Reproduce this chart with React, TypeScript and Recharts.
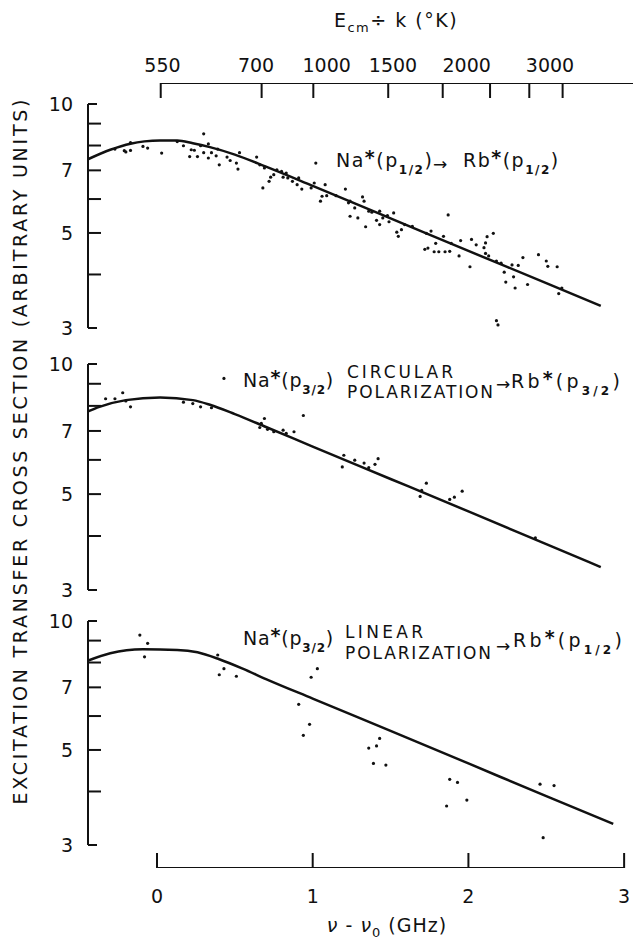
import React from 'react';
import { ComposedChart, Line, Scatter, XAxis, YAxis } from 'recharts';

const W = 633;
const H = 940;
const INK = '#111';
const FONT = "'DejaVu Sans', 'Noto Sans', sans-serif";

// nu - nu0 (GHz); the panels start a little left of 0
const X_DOMAIN: [number, number] = [-0.443, 3.057];
const Y_DOMAIN: [number, number] = [3, 10];
const Y_TICKS = [3, 4, 5, 6, 7, 8, 9, 10];
const Y_LABELED = [3, 5, 7, 10];
const BOTTOM_TICKS = [0, 1, 2, 3];

// top scale E_cm/k (K), placed at their GHz positions
const TOP_TICKS = [0.024, 0.672, 1.004, 1.485, 1.835, 2.139, 2.391, 2.605];
const TOP_LABEL_AT = [0.035, 0.636, 1.09, 1.516, 1.989, 2.524];
const TOP_LABELS = ['550', '700', '1000', '1500', '2000', '3000'];

// Na*(p1/2) -> Rb*(p1/2)
const FIT1_X = [-0.44, -0.3, -0.17, -0.08, 0.02, 0.13, 0.23, 0.34, 0.5, 0.7, 1.0, 1.5, 2.0, 2.5, 2.85];
const FIT1_Y = [7.44, 7.82, 8.08, 8.18, 8.22, 8.22, 8.1, 7.93, 7.62, 7.14, 6.44, 5.41, 4.54, 3.82, 3.38];
const DOTS1_X = [
  -0.27, -0.21, -0.2, -0.17, -0.17, -0.09, -0.06, 0.03, 0.13, 0.17, 0.21, 0.22, 0.24, 0.26, 0.28, 0.3,
  0.3, 0.33, 0.33, 0.35, 0.38, 0.39, 0.4, 0.45, 0.47, 0.51, 0.52, 0.53, 0.64, 0.66, 0.68, 0.69,
  0.72, 0.73, 0.75, 0.77, 0.8, 0.81, 0.83, 0.84, 0.87, 0.9, 0.91, 0.93, 0.99, 1.01, 1.02, 1.05,
  1.06, 1.08, 1.09, 1.15, 1.21, 1.24, 1.24, 1.27, 1.29, 1.23, 1.32, 1.33, 1.34, 1.36, 1.38, 1.41,
  1.43, 1.43, 1.45, 1.48, 1.49, 1.52, 1.54, 1.55, 1.57, 1.59, 1.64, 1.72, 1.73, 1.74, 1.76, 1.78,
  1.79, 1.81, 1.84, 1.85, 1.87, 1.88, 1.89, 1.94, 1.95, 2.01, 2.02, 2.05, 2.1, 2.11, 2.11, 2.12,
  2.13, 2.16, 2.18, 2.18, 2.19, 2.21, 2.23, 2.24, 2.28, 2.29, 2.3, 2.32, 2.35, 2.38, 2.45, 2.5,
  2.51, 2.57, 2.58, 2.6,
];
const DOTS1_Y = [
  7.85, 7.78, 7.73, 7.79, 8.13, 7.96, 7.89, 7.68, 8.17, 7.99, 7.54, 7.82, 7.8, 7.54, 7.99, 8.52,
  7.7, 8.07, 7.48, 7.7, 7.57, 7.85, 7.21, 7.52, 7.38, 7.28, 7.05, 7.7, 7.52, 7.21, 6.37, 7.09,
  6.6, 6.75, 6.84, 7.02, 6.96, 6.75, 6.9, 6.72, 6.6, 6.48, 6.72, 6.33, 6.37, 6.54, 7.28, 5.93,
  6.09, 6.48, 6.11, 6.11, 6.33, 5.93, 5.47, 5.72, 5.42, 5.88, 6.07, 5.93, 5.17, 5.62, 5.59, 5.35,
  5.62, 5.23, 5.42, 5.49, 5.31, 5.57, 5.02, 4.91, 5.09, 5.23, 5.18, 4.58, 4.99, 4.61, 5.05, 4.52,
  4.73, 4.52, 4.91, 4.52, 5.51, 4.53, 4.73, 4.42, 4.8, 4.17, 4.83, 4.69, 4.62, 4.74, 4.48, 4.9,
  4.42, 4.99, 4.3, 3.12, 3.05, 4.25, 4.05, 3.84, 4.21, 3.95, 3.72, 4.2, 4.38, 3.79, 4.45, 4.3,
  4.18, 4.17, 3.61, 3.72,
];

// Na*(p3/2) circular -> Rb*(p3/2)
const FIT2_X = [-0.45, -0.37, -0.2, 0.02, 0.23, 0.34, 0.5, 0.7, 1.0, 1.5, 2.0, 2.5, 2.85];
const FIT2_Y = [7.75, 7.96, 8.25, 8.37, 8.25, 8.05, 7.66, 7.15, 6.44, 5.42, 4.56, 3.83, 3.39];
const DOTS2_X = [
  -0.33, -0.27, -0.22, -0.2, -0.17, 0.17, 0.23, 0.28, 0.35, 0.43, 0.66, 0.67, 0.69, 0.71, 0.75, 0.81,
  0.83, 0.88, 0.94, 1.19, 1.2, 1.27, 1.33, 1.36, 1.4, 1.42, 1.69, 1.7, 1.73, 1.88, 1.91, 1.96, 2.43,
];
const DOTS2_Y = [
  8.31, 8.31, 8.58, 8.21, 7.96, 8.16, 8.1, 7.96, 7.92, 9.26, 7.13, 7.29, 7.48, 7.06, 6.97, 7.03,
  6.91, 6.97, 7.6, 5.78, 6.15, 5.99, 5.9, 5.76, 5.86, 6.04, 4.94, 5.1, 5.3, 4.86, 4.92, 5.08, 3.96,
];

// Na*(p3/2) linear -> Rb*(p1/2)
const FIT3_X = [-0.46, -0.3, -0.09, 0.13, 0.26, 0.4, 0.55, 0.7, 1.0, 1.5, 2.0, 2.5, 2.93];
const FIT3_Y = [8.04, 8.41, 8.59, 8.56, 8.45, 8.14, 7.74, 7.32, 6.59, 5.54, 4.65, 3.9, 3.36];
const DOTS3_X = [
  -0.11, -0.06, -0.08, 0.39, 0.4, 0.43, 0.51, 0.91, 0.94, 0.98, 0.99, 1.03,
  1.36, 1.41, 1.43, 1.39, 1.47, 1.88, 1.93, 1.86, 1.99, 2.46, 2.55, 2.48,
];
const DOTS3_Y = [
  9.27, 8.87, 8.25, 8.33, 7.49, 7.74, 7.43, 6.39, 5.41, 5.74, 7.39, 7.74,
  5.05, 5.11, 5.32, 4.65, 4.61, 4.27, 4.2, 3.7, 3.82, 4.16, 4.13, 3.12,
];

const pairs = (xs: number[], ys: number[]) => xs.map((x, i) => ({ x, y: ys[i] }));

// axis lines of the two x scales, as series running along their ticks
const topAxisLine = [
  { x: TOP_TICKS[0], y: 1 },
  { x: X_DOMAIN[1], y: 1 },
];
const bottomAxisLine = BOTTOM_TICKS.map((x) => ({ x, y: 0 }));
const topAxisTicks = [...TOP_TICKS, ...TOP_LABEL_AT];

const YTick = (props: any) => {
  const { x, y, payload } = props;
  const v = payload.value;
  const len = v === 3 || v === 10 ? 9 : 13;
  return (
    <g>
      <line x1={x} y1={y} x2={x + len} y2={y} stroke={INK} strokeWidth={2} />
      {Y_LABELED.includes(v) && (
        <text x={x - 15} y={y + 7} textAnchor="end" fontSize={19} fill={INK} fontFamily={FONT}>
          {v}
        </text>
      )}
    </g>
  );
};

const TopTick = (props: any) => {
  const v = props.payload.value;
  const li = TOP_LABEL_AT.indexOf(v);
  return (
    <g>
      {TOP_TICKS.includes(v) && (
        <line x1={props.x} y1={props.y} x2={props.x} y2={props.y + 15} stroke={INK} strokeWidth={2} />
      )}
      {li >= 0 && (
        <text x={props.x} y={props.y - 11} textAnchor="middle" fontSize={19} fill={INK} fontFamily={FONT}>
          {TOP_LABELS[li]}
        </text>
      )}
    </g>
  );
};

const BottomTick = (props: any) => (
  <g>
    <line x1={props.x} y1={props.y} x2={props.x} y2={props.y - 15} stroke={INK} strokeWidth={2} />
    <text x={props.x} y={props.y + 35} textAnchor="middle" fontSize={19} fill={INK} fontFamily={FONT}>
      {props.payload.value}
    </text>
  </g>
);

const Dot = (p: any) => <circle cx={p.cx} cy={p.cy} r={1.6} fill={INK} />;

const layer: React.CSSProperties = { position: 'absolute', left: 0, top: 0 };

const Panel = ({ top, bottom, fit, dots }: { top: number; bottom: number; fit: any[]; dots: any[] }) => (
  <div style={layer}>
    <ComposedChart width={W} height={H} margin={{ top, right: 0, bottom: H - bottom, left: 0 }}>
      <XAxis type="number" dataKey="x" domain={X_DOMAIN} allowDataOverflow hide />
      <YAxis
        type="number"
        scale="log"
        domain={Y_DOMAIN}
        allowDataOverflow
        ticks={Y_TICKS}
        interval={0}
        width={88}
        tickSize={0}
        tickMargin={0}
        tickLine={false}
        axisLine={{ stroke: INK, strokeWidth: 2 }}
        tick={<YTick />}
      />
      <Line data={fit} dataKey="y" type="monotone" stroke={INK} strokeWidth={2.5} dot={false} isAnimationActive={false} />
      <Scatter data={dots} dataKey="y" shape={<Dot />} isAnimationActive={false} />
    </ComposedChart>
  </div>
);

const Species = ({ x, y, name, sub, spacing = 1.5 }: { x: number; y: number; name: string; sub: string; spacing?: number }) => (
  <text x={x} y={y} fontSize={19} fill={INK} fontFamily={FONT} letterSpacing={spacing}>
    {name}
    <tspan dy={-3} fontWeight="bold">*</tspan>
    <tspan dy={3}>(p</tspan>
    <tspan dy={7} fontSize={12} fontWeight="bold">{sub}</tspan>
    <tspan dy={-7}>)</tspan>
  </text>
);

const Arrow = ({ x, y }: { x: number; y: number }) => (
  <text x={x} y={y} fontSize={17} fill={INK} fontFamily={FONT}>→</text>
);

const Caps = ({ x, y, text, len }: { x: number; y: number; text: string; len: number }) => (
  <text x={x} y={y} fontSize={17} fill={INK} fontFamily={FONT} textLength={len} lengthAdjust="spacing">
    {text}
  </text>
);

export default function App() {
  return (
    <div style={{ position: 'absolute', left: 0, top: 0, width: W, height: H, background: '#fff' }}>
      {/* top scale */}
      <div style={layer}>
        <ComposedChart width={W} height={H} margin={{ top: 63, right: 0, bottom: H - 98, left: 88 }}>
          <XAxis xAxisId="t" orientation="top" type="number" dataKey="x" domain={X_DOMAIN} allowDataOverflow
            ticks={topAxisTicks} interval={0} height={20} tickSize={0} tickMargin={0} axisLine={false}
            tickLine={false} tick={<TopTick />} />
          <YAxis yAxisId="t" type="number" domain={[0, 1]} allowDataOverflow hide />
          <Line xAxisId="t" yAxisId="t" data={topAxisLine} dataKey="y" type="linear" stroke={INK} strokeWidth={2}
            dot={false} isAnimationActive={false} />
        </ComposedChart>
      </div>

      <Panel top={104} bottom={328} fit={pairs(FIT1_X, FIT1_Y)} dots={pairs(DOTS1_X, DOTS1_Y)} />
      <Panel top={364} bottom={590} fit={pairs(FIT2_X, FIT2_Y)} dots={pairs(DOTS2_X, DOTS2_Y)} />
      <Panel top={621} bottom={845} fit={pairs(FIT3_X, FIT3_Y)} dots={pairs(DOTS3_X, DOTS3_Y)} />

      {/* bottom scale */}
      <div style={layer}>
        <ComposedChart width={W} height={H} margin={{ top: 853, right: 0, bottom: H - 868 - 20, left: 88 }}>
          <XAxis xAxisId="b" type="number" dataKey="x" domain={X_DOMAIN} allowDataOverflow ticks={BOTTOM_TICKS}
            interval={0} height={20} tickSize={0} tickMargin={0} axisLine={false} tickLine={false}
            tick={<BottomTick />} />
          <YAxis yAxisId="b" type="number" domain={[0, 1]} allowDataOverflow hide />
          <Line xAxisId="b" yAxisId="b" data={bottomAxisLine} dataKey="y" type="linear" stroke={INK} strokeWidth={2}
            dot={false} isAnimationActive={false} />
        </ComposedChart>
      </div>

      <svg width={W} height={H} style={{ ...layer, pointerEvents: 'none' }}>
        <text x={396} y={27} textAnchor="middle" fontSize={19} fill={INK} fontFamily={FONT} letterSpacing={1.5}>
          E<tspan dy={5} fontSize={13}>cm</tspan>
          <tspan dy={-5}>÷ k  (°K)</tspan>
        </text>
        <text x={387} y={932} textAnchor="middle" fontSize={19} fill={INK} fontFamily={FONT} letterSpacing={1}>
          <tspan fontStyle="italic">ν</tspan> - <tspan fontStyle="italic">ν</tspan>
          <tspan dy={5} fontSize={13}>0</tspan>
          <tspan dy={-5}> (GHz)</tspan>
        </text>
        <text transform="rotate(-90)" x={-452} y={27} textAnchor="middle" fontSize={19} fill={INK} fontFamily={FONT}
          textLength={705} lengthAdjust="spacing">
          EXCITATION TRANSFER CROSS SECTION (ARBITRARY UNITS)
        </text>

        <Species x={336} y={167} name="Na" sub="1/2" />
        <Arrow x={433} y={170} />
        <Species x={463} y={167} name="Rb" sub="1/2" />

        <Species x={243} y={387} name="Na" sub="3/2" spacing={0.8} />
        <Caps x={347} y={378} text="CIRCULAR" len={106} />
        <Caps x={347} y={398} text="POLARIZATION" len={146} />
        <Arrow x={496} y={390} />
        <Species x={511} y={388} name="Rb" sub="3/2" spacing={3.2} />

        <Species x={243} y={645} name="Na" sub="3/2" spacing={0.8} />
        <Caps x={345} y={638} text="LINEAR" len={78} />
        <Caps x={345} y={659} text="POLARIZATION" len={146} />
        <Arrow x={496} y={652} />
        <Species x={513} y={647} name="Rb" sub="1/2" spacing={3.2} />
      </svg>
    </div>
  );
}
